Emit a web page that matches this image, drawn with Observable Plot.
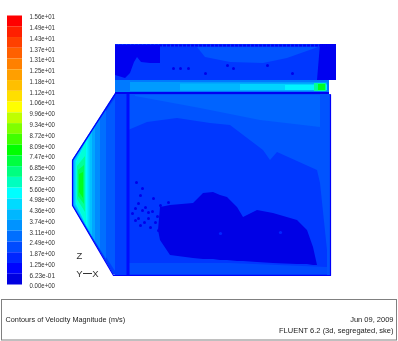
<!DOCTYPE html>
<html>
<head>
<meta charset="utf-8">
<script src="https://cdn.jsdelivr.net/npm/d3@7"></script>
<script src="https://cdn.jsdelivr.net/npm/@observablehq/plot@0.6"></script>
<style>
html,body{margin:0;padding:0;background:#fff}
svg{display:block;filter:blur(0.45px)}
</style>
</head>
<body>
<div id="chart"></div>
<script>
// Colour bar
const levelLabels = ["1.56e+01","1.49e+01","1.43e+01","1.37e+01","1.31e+01","1.25e+01","1.18e+01","1.12e+01","1.06e+01","9.96e+00","9.34e+00","8.72e+00","8.09e+00","7.47e+00","6.85e+00","6.23e+00","5.60e+00","4.98e+00","4.36e+00","3.74e+00","3.11e+00","2.49e+00","1.87e+00","1.25e+00","6.23e-01","0.00e+00"];
const levelValues = [15.6,14.9,14.3,13.7,13.1,12.5,11.8,11.2,10.6,9.96,9.34,8.72,8.09,7.47,6.85,6.23,5.60,4.98,4.36,3.74,3.11,2.49,1.87,1.25,0.623,0];

// Contour regions of velocity magnitude, painted back to front
const regionLevel  = [1.6, 2.1, 0.3, 0.3, 1.7, 2.1, 2.4, 1.6, 1.95, 0.1, 0.8,
                      2.2, 2.6, 3.1, 3.6, 4.1, 4.6, 5.1, 5.6, 6.23, 6.85, 7.47,
                      2.8, 3.4, 3.9, 4.4, 4.98, 6.23, 7.47, 0.3];
const regionX = [
  [115,336],                                   // upper box
  [197,205,230,263,287,318],                   // upper box, lighter part
  [115,125,130,134,137,141,150,160],           // upper box, left stagnant part
  [317,320,336],                               // upper box, right stagnant part
  [72,113,115,128],                            // hopper
  [128,330],                                   // body, upper part
  [135,200,260,320],                           // body, streak below duct
  [128,147,177,210,230,263,270,277,317,320,327],// body, main part
  [128,230,327],                               // body, bottom strip
  [158,160,170,193,203,213,220,227,237,243,257,273,297,307,313,317], // dead zone
  [126.5,129.5],                               // baffle line
  [73,115],[73,106],[73,100],[73.5,95],[74,92],[75,89.5],[76,87.5],[76,86],[77,85],[78,84],[79,83], // inlet jet
  [115,329],[130,327],[180,327],[240,327],[285,327],[314,326],[318,325],      // duct
  [115,329],                                   // duct wall
];
const regionTop = [
  [44,44],
  [47,47,47,47,47,47],
  [45,45,45,45,45,45,45,45],
  [80,44,44],
  [160,96,93,93],
  [94,94],
  [95,95,95,95],
  [130,122,118,123,125,150,160,152,170,183,250],
  [263,263,267],
  [230,207,205,203,193,192,195,197,207,217,210,213,220,230,247,265],
  [93,93],
  [159,98],[159,110],[159,119],[160,127],[160,132],[161,136],[161,139],[163,142],[166,156],[170,165],[174,172],
  [80,80],[82,82],[83.5,83.5],[84,84],[85,85],[83,83],[84,84],
  [92,92],
];
const regionBottom = [
  [80,80],
  [47,57,62,63,58,47],
  [75,78,73,62,57,62,63,63],
  [80,80,80],
  [205,274,275,275],
  [275,275],
  [96,108,120,127],
  [275,275,275,275,275,275,275,275,275,275,275],
  [274,274,274],
  [230,240,255,258,259,259,260,260,261,261,262,263,264,264,265,265],
  [275,275],
  [206,271],[206,259],[206,249],[205,241],[205,236],[204,231],[204,228],[202,224],[199,212],[196,204],[192,198],
  [92,92],[91,91],[90.5,90.5],[90,90],[90,90],[91,91],[90,90],
  [94,94],
];

// Wall lines
const wallX = [115,72,72,113,330,330];
const wallY = [93,160,205,275,275,94];

// Isolated stagnant cells
const speckX = [136,142,140,153,168,138,135,132,138,148,155,158,142,145,160,148,135,140,152,157,144,150,173,180,188,205,227,233,267,292];
const speckY = [182,188,195,198,202,203,208,213,218,218,222,230,210,207,205,212,220,225,211,216,222,227,68,68,68,73,65,68,65,73];
const holeX = [280,220];
const holeY = [232,233];

// Texts
const footerLeft = "Contours of Velocity Magnitude (m/s)";
const footerDate = "Jun 09, 2009";
const footerSolver = "FLUENT 6.2 (3d, segregated, ske)";

const regionRows = regionLevel.flatMap((level, id) =>
  regionX[id].map((x, k) => ({id, level, x, top: regionTop[id][k], bottom: regionBottom[id][k]})));
const barBands = d3.range(25).map(i => ({
  y1: 15.5 + i * 10.76, y2: 15.5 + (i + 1) * 10.76, v: 15.6 * (24 - i) / 24}));
const barLabels = levelLabels.map((t, i) => ({t, y: 16.5 + i * 10.76, v: levelValues[i]}));
const wall = wallX.map((x, i) => ({x, y: wallY[i]}));
const specks = speckX.map((x, i) => ({x, y: speckY[i]}));
const holes = holeX.map((x, i) => ({x, y: holeY[i]}));

const textFont = "'Liberation Sans', Arial, sans-serif";

const chart = Plot.plot({
  width: 398,
  height: 341,
  margin: 0,
  style: {background: "#fff"},
  x: {domain: [0, 398], range: [0, 398], axis: null},
  y: {domain: [0, 341], range: [0, 341], axis: null},
  color: {
    type: "linear",
    domain: [0, 0.6, 5.2, 7.8, 10.4, 15.6],
    range: ["#0000e0", "#0000ff", "#00ffff", "#00ff00", "#ffff00", "#ff0000"],
    clamp: true
  },
  marks: [
    Plot.areaY(regionRows, {x: "x", y1: "top", y2: "bottom", z: "id", fill: "level"}),
    Plot.dot(specks, {x: "x", y: "y", r: 1.5, fill: () => 0.2}),
    Plot.dot(holes, {x: "x", y: "y", r: 1.6, fill: () => 1.25}),
    Plot.line(wall, {x: "x", y: "y", stroke: () => 0.5, strokeWidth: 1.2}),
    Plot.ruleY([45], {x1: 115, x2: 336, stroke: () => 0.4, strokeWidth: 2, strokeDasharray: "3,1"}),
    Plot.rect(barBands, {x1: () => 7, x2: () => 22, y1: "y1", y2: "y2", fill: "v"}),
    Plot.text(barLabels, {x: () => 29, y: "y", text: "t", textAnchor: "start", fontSize: 7.5, fill: "#333", fontFamily: textFont, className: "bar-label"}),
    Plot.text(["Z"], {x: () => 79, y: () => 255, fontSize: 9.5, fill: "#333", fontFamily: textFont}),
    Plot.text(["Y"], {x: () => 79, y: () => 273, fontSize: 9.5, fill: "#333", fontFamily: textFont}),
    Plot.text(["X"], {x: () => 95, y: () => 273, fontSize: 9.5, fill: "#333", fontFamily: textFont}),
    Plot.ruleY([273], {x1: 83, x2: 92, stroke: "#333", strokeWidth: 1}),
    Plot.rect([0], {x1: () => 1.5, x2: () => 396.5, y1: () => 299.5, y2: () => 340, fill: "none", stroke: "#808080", strokeWidth: 1}),
    Plot.text([footerLeft], {x: () => 5, y: () => 319.5, textAnchor: "start", fontSize: 7.3, fill: "#222", fontFamily: textFont}),
    Plot.text([footerDate], {x: () => 393, y: () => 319.5, textAnchor: "end", fontSize: 7.5, fill: "#222", fontFamily: textFont}),
    Plot.text([footerSolver], {x: () => 393, y: () => 330.5, textAnchor: "end", fontSize: 7.5, fill: "#222", fontFamily: textFont})
  ]
});
d3.select(chart).selectAll(".bar-label text")
  .attr("textLength", 25.5)
  .attr("lengthAdjust", "spacingAndGlyphs");
document.getElementById("chart").appendChild(chart);
</script>
</body>
</html>
